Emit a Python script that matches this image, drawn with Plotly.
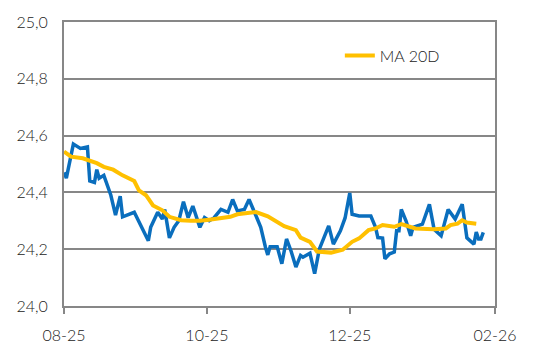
import plotly.graph_objects as go

# Blue series (price) – vertices
price_dates = [
    "2025-08-01", "2025-08-02", "2025-08-05", "2025-08-08", "2025-08-11", "2025-08-12",
    "2025-08-14", "2025-08-15", "2025-08-16", "2025-08-18", "2025-08-21", "2025-08-23",
    "2025-08-25", "2025-08-26", "2025-08-31", "2025-09-03", "2025-09-06", "2025-09-07",
    "2025-09-10", "2025-09-12", "2025-09-13", "2025-09-15", "2025-09-17", "2025-09-19",
    "2025-09-21", "2025-09-23", "2025-09-25", "2025-09-28", "2025-09-30", "2025-10-02",
    "2025-10-04", "2025-10-07", "2025-10-10", "2025-10-12", "2025-10-14", "2025-10-17",
    "2025-10-19", "2025-10-22", "2025-10-24", "2025-10-26", "2025-10-27", "2025-10-28",
    "2025-10-31", "2025-11-02", "2025-11-04", "2025-11-06", "2025-11-08", "2025-11-10",
    "2025-11-11", "2025-11-14", "2025-11-16", "2025-11-18", "2025-11-20", "2025-11-22",
    "2025-11-24", "2025-11-27", "2025-11-29", "2025-12-01", "2025-12-02", "2025-12-05",
    "2025-12-10", "2025-12-12", "2025-12-13", "2025-12-15", "2025-12-16", "2025-12-18",
    "2025-12-20", "2025-12-21", "2025-12-22", "2025-12-23", "2025-12-25", "2025-12-27",
    "2025-12-28", "2025-12-30", "2026-01-01", "2026-01-04", "2026-01-06", "2026-01-09",
    "2026-01-12", "2026-01-15", "2026-01-18", "2026-01-20", "2026-01-23", "2026-01-24",
    "2026-01-25", "2026-01-26", "2026-01-27",
]
price_values = [
    24.47, 24.45, 24.57, 24.555, 24.56, 24.44,
    24.435, 24.48, 24.45, 24.46, 24.39, 24.32,
    24.387, 24.314, 24.33, 24.277, 24.23, 24.277,
    24.33, 24.306, 24.34, 24.24, 24.277, 24.30,
    24.367, 24.311, 24.352, 24.277, 24.311, 24.30,
    24.31, 24.34, 24.33, 24.375, 24.335, 24.34,
    24.375, 24.317, 24.277, 24.207, 24.18, 24.209,
    24.209, 24.149, 24.236, 24.192, 24.137, 24.178,
    24.172, 24.186, 24.114, 24.20, 24.241, 24.282,
    24.218, 24.265, 24.31, 24.398, 24.323, 24.317,
    24.317, 24.277, 24.241, 24.239, 24.166, 24.184,
    24.19, 24.265, 24.265, 24.34, 24.30, 24.247,
    24.277, 24.282, 24.288, 24.358, 24.27, 24.247,
    24.34, 24.306, 24.358, 24.24, 24.218, 24.26,
    24.236, 24.236, 24.259,
]

# Yellow series (MA 20D)
ma_dates = [
    "2025-08-01", "2025-08-04", "2025-08-09", "2025-08-15", "2025-08-18", "2025-08-22",
    "2025-08-26", "2025-08-31", "2025-09-02", "2025-09-05", "2025-09-08", "2025-09-12",
    "2025-09-15", "2025-09-20", "2025-09-24", "2025-09-28", "2025-10-02", "2025-10-07",
    "2025-10-11", "2025-10-14", "2025-10-19", "2025-10-22", "2025-10-27", "2025-10-31",
    "2025-11-03", "2025-11-08", "2025-11-10", "2025-11-14", "2025-11-17", "2025-11-23",
    "2025-11-28", "2025-12-02", "2025-12-05", "2025-12-09", "2025-12-12", "2025-12-15",
    "2025-12-20", "2025-12-23", "2025-12-29", "2026-01-03", "2026-01-06", "2026-01-11",
    "2026-01-13", "2026-01-16", "2026-01-18", "2026-01-20", "2026-01-24",
]
ma_values = [
    24.544, 24.526, 24.52, 24.503, 24.49, 24.48,
    24.46, 24.44, 24.407, 24.39, 24.354, 24.337,
    24.314, 24.302, 24.30, 24.30, 24.304, 24.311,
    24.314, 24.323, 24.328, 24.331, 24.316, 24.296,
    24.281, 24.267, 24.241, 24.226, 24.192, 24.188,
    24.198, 24.226, 24.238, 24.267, 24.273, 24.285,
    24.279, 24.288, 24.273, 24.271, 24.27, 24.273,
    24.285, 24.29, 24.302, 24.294, 24.29,
]

x_tick_vals = ["2025-08-01", "2025-10-01", "2025-12-01", "2026-02-01"]
x_tick_text = ["08-25", "10-25", "12-25", "02-26"]
y_tick_vals = [24.0, 24.2, 24.4, 24.6, 24.8, 25.0]

GRID = "#878787"
TEXT = "#222222"

fig = go.Figure()
fig.add_trace(go.Scatter(
    x=price_dates, y=price_values, mode="lines", name="Price",
    line=dict(color="#0A6EBD", width=3.5), showlegend=False,
))
fig.add_trace(go.Scatter(
    x=ma_dates, y=ma_values, mode="lines", name="MA 20D",
    line=dict(color="#FFC000", width=4), showlegend=True,
))

fig.update_layout(
    width=538, height=356,
    margin=dict(l=64, r=43, t=19, b=50),
    paper_bgcolor="white", plot_bgcolor="white",
    font=dict(family="Lato, Open Sans, sans-serif", size=16, color=TEXT, weight=300),
    separators=", ",
    legend=dict(x=0.64, y=0.882, xanchor="left", yanchor="middle",
                bgcolor="rgba(0,0,0,0)",
                font=dict(size=16, color=TEXT, weight=300)),
    xaxis=dict(
        type="date", range=["2025-08-01", "2026-02-01"],
        tickvals=x_tick_vals, ticktext=x_tick_text,
        showgrid=False, zeroline=False,
        showline=True, linecolor=GRID, linewidth=2, mirror=True,
        ticks="outside", ticklen=6, tickwidth=2, tickcolor=GRID,
        ticklabelstandoff=8,
    ),
    yaxis=dict(
        range=[24.0, 25.0], tickvals=y_tick_vals, tickformat=".1f",
        showgrid=True, gridcolor=GRID, gridwidth=2, zeroline=False,
        showline=True, linecolor=GRID, linewidth=2, mirror=True,
        ticks="", ticklabelstandoff=11,
    ),
)

fig.write_html(
    "out.html",
    config={"displayModeBar": False},
    post_script="document.body.style.margin='0';document.body.style.overflow='hidden';",
)
